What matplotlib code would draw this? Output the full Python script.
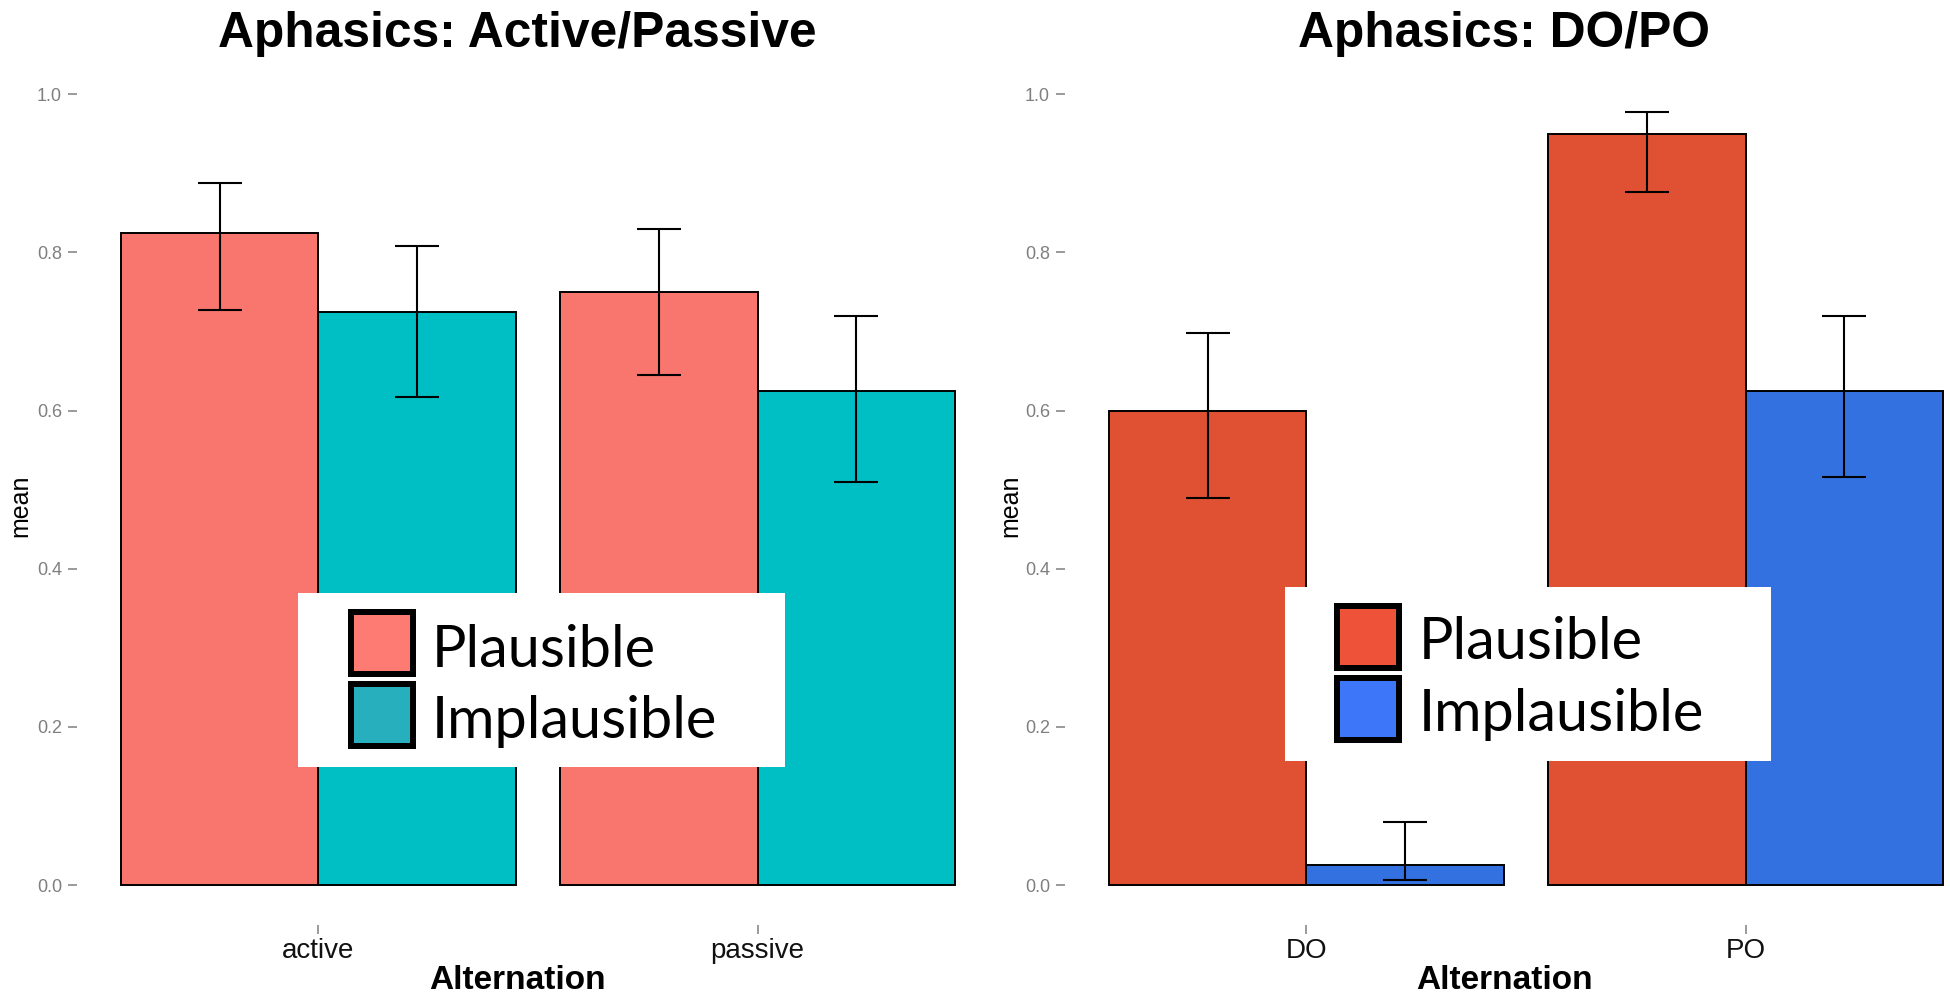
import matplotlib
matplotlib.use("Agg")
import matplotlib.pyplot as plt
from matplotlib.patches import Rectangle
import numpy as np

# ---- data -------------------------------------------------------------
ap_categories = ["active", "passive"]
ap_plausible = [0.825, 0.75]
ap_plausible_lo = [0.727, 0.645]
ap_plausible_hi = [0.888, 0.829]
ap_implausible = [0.725, 0.625]
ap_implausible_lo = [0.617, 0.510]
ap_implausible_hi = [0.808, 0.719]

dp_categories = ["DO", "PO"]
dp_plausible = [0.60, 0.95]
dp_plausible_lo = [0.490, 0.877]
dp_plausible_hi = [0.698, 0.978]
dp_implausible = [0.025, 0.625]
dp_implausible_lo = [0.006, 0.516]
dp_implausible_hi = [0.080, 0.719]

y_ticks = [0.0, 0.2, 0.4, 0.6, 0.8, 1.0]
y_tick_labels = ["0.0", "0.2", "0.4", "0.6", "0.8", "1.0"]
legend_labels = ["Plausible", "Implausible"]
titles = ["Aphasics: Active/Passive", "Aphasics: DO/PO"]

# ---- style ------------------------------------------------------------
W, H, DPI = 1950, 994, 100
plt.rcParams["font.family"] = ["Liberation Sans", "DejaVu Sans"]

ap_colors = ["#F8766D", "#00BFC4"]
ap_key_colors = ["#FD7B73", "#28AFBE"]
dp_colors = ["#E05033", "#3370E0"]
dp_key_colors = ["#EE5339", "#3D76F8"]
GREY = "#7F7F7F"


def fig_rect(left, top, right, bottom):
    """Pixel box (top-left origin) -> figure-fraction rectangle."""
    return [left / W, 1 - bottom / H, (right - left) / W, (bottom - top) / H]


fig = plt.figure(figsize=(W / DPI, H / DPI), dpi=DPI)
fig.patch.set_facecolor("white")

PANEL_TOP, PANEL_BOTTOM = 54.7, 924.6
ax_left = fig.add_axes(fig_rect(77, PANEL_TOP, 999, PANEL_BOTTOM))
ax_right = fig.add_axes(fig_rect(1065, PANEL_TOP, 1987, PANEL_BOTTOM))


def draw_panel(ax, cats, series, colors, title, title_x, ylab_x):
    x = np.arange(1, len(cats) + 1)
    bw = 0.45
    offsets = [-bw / 2, bw / 2]
    for (means, lo, hi), color, off in zip(series, colors, offsets):
        xs = x + off
        ax.bar(xs, means, width=bw, color=color, edgecolor="black",
               linewidth=1.4, joinstyle="miter", zorder=2)
        ax.vlines(xs, lo, hi, color="black", linewidth=1.5, zorder=3)
        ax.hlines(lo, xs - 0.05, xs + 0.05, color="black", linewidth=1.5, zorder=3)
        ax.hlines(hi, xs - 0.05, xs + 0.05, color="black", linewidth=1.5, zorder=3)

    ax.set_xlim(0.45, 2.55)
    ax.set_ylim(-0.05, 1.05)
    for s in ax.spines.values():
        s.set_visible(False)
    ax.set_facecolor("white")

    ax.set_yticks(y_ticks)
    ax.set_yticklabels(y_tick_labels)
    ax.set_xticks(x)
    ax.set_xticklabels(cats)
    ax.tick_params(axis="y", length=6.5, width=1.1, color=GREY,
                   labelcolor=GREY, labelsize=13, pad=4.3)
    ax.tick_params(axis="x", length=6.5, width=1.1, color=GREY,
                   labelcolor="#111111", labelsize=20, pad=3.5)

    ax.set_title(title, fontsize=35.8, fontweight="bold", x=title_x,
                 y=1 + (PANEL_TOP - 47) / (PANEL_BOTTOM - PANEL_TOP),
                 pad=0, va="baseline")

    ax.set_xlabel("Alternation", fontsize=24, fontweight="bold")
    ax.xaxis.label.set_va("baseline")
    ax.xaxis.set_label_coords(title_x, -(989 - PANEL_BOTTOM) / (PANEL_BOTTOM - PANEL_TOP))

    ax.set_ylabel("mean", fontsize=18, color="black")
    ax.yaxis.label.set_va("center")
    ax.yaxis.set_label_coords(ylab_x, (PANEL_BOTTOM - 506) / (PANEL_BOTTOM - PANEL_TOP))


draw_panel(
    ax_left, ap_categories,
    [(ap_plausible, ap_plausible_lo, ap_plausible_hi),
     (ap_implausible, ap_implausible_lo, ap_implausible_hi)],
    ap_colors, titles[0], (517 - 77) / 922, (20 - 77) / 922)

draw_panel(
    ax_right, dp_categories,
    [(dp_plausible, dp_plausible_lo, dp_plausible_hi),
     (dp_implausible, dp_implausible_lo, dp_implausible_hi)],
    dp_colors, titles[1], (1504 - 1065) / 922, (1010 - 1065) / 922)


def draw_key_box(box, key_x, key_tops, text_x, baselines, key_colors):
    left, top, right, bottom = box
    fig.add_artist(Rectangle((left / W, 1 - bottom / H), (right - left) / W,
                             (bottom - top) / H, transform=fig.transFigure,
                             facecolor="white", edgecolor="none", zorder=10))
    kw = 68
    lw_px = 6
    for ktop, color, label, base in zip(key_tops, key_colors, legend_labels, baselines):
        l = key_x + lw_px / 2
        t = ktop + lw_px / 2
        size = kw - lw_px
        fig.add_artist(Rectangle((l / W, 1 - (t + size) / H), size / W, size / H,
                                 transform=fig.transFigure, facecolor=color,
                                 edgecolor="black", linewidth=lw_px * 72 / DPI,
                                 joinstyle="miter", zorder=11))
        fig.text(text_x / W, 1 - base / H, label, fontsize=41.5,
                 family=["Lato", "DejaVu Sans"],
                 va="baseline", ha="left", color="black", zorder=12)


draw_key_box((298, 593, 785, 767), 348, [609, 681], 432, [667, 738], ap_key_colors)
draw_key_box((1285, 587, 1771, 761), 1334, [603, 675], 1419, [659, 731], dp_key_colors)

fig.savefig("out.png", dpi=DPI, facecolor="white")
